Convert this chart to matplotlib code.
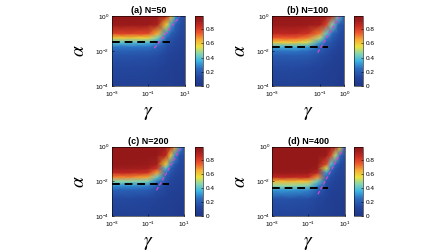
import numpy as np
import matplotlib
matplotlib.use('Agg')
import matplotlib.pyplot as plt
from matplotlib.colors import LinearSegmentedColormap

plt.rcParams['font.family'] = ['Liberation Sans', 'DejaVu Sans']
plt.rcParams['mathtext.fontset'] = 'stix'

# log10(alpha) nodes, bottom to top
log_alpha = [-4, -3, -2.5, -2.25, -2, -1.75, -1.5, -1.25, -1, -0.5, 0]
# log10(gamma) nodes
log_gamma_acd = [-3, -2, -1, -0.5, 0, 0.25, 0.5, 0.75, 1]
log_gamma_b = [-3, -2, -1.5, -1, -0.75, -0.5, -0.25, 0]

# values, one list per gamma column (bottom -> top)
z_a = [
    [0.08, 0.12, 0.15, 0.17, 0.21, 0.27, 0.40, 0.60, 0.80, 0.95, 0.97],
    [0.08, 0.12, 0.15, 0.17, 0.21, 0.27, 0.40, 0.60, 0.80, 0.95, 0.97],
    [0.08, 0.11, 0.14, 0.16, 0.20, 0.26, 0.38, 0.58, 0.78, 0.94, 0.97],
    [0.07, 0.10, 0.13, 0.15, 0.18, 0.22, 0.30, 0.44, 0.64, 0.90, 0.96],
    [0.06, 0.08, 0.10, 0.11, 0.13, 0.15, 0.18, 0.22, 0.30, 0.58, 0.86],
    [0.06, 0.07, 0.09, 0.10, 0.11, 0.13, 0.15, 0.17, 0.20, 0.32, 0.62],
    [0.05, 0.06, 0.08, 0.09, 0.10, 0.11, 0.12, 0.14, 0.16, 0.20, 0.32],
    [0.05, 0.06, 0.07, 0.08, 0.09, 0.10, 0.11, 0.12, 0.13, 0.15, 0.18],
    [0.04, 0.05, 0.06, 0.06, 0.07, 0.08, 0.09, 0.10, 0.11, 0.12, 0.14],
]
z_b = [
    [0.08, 0.13, 0.17, 0.20, 0.26, 0.37, 0.60, 0.75, 0.87, 0.95, 0.97],
    [0.08, 0.13, 0.17, 0.20, 0.26, 0.37, 0.60, 0.75, 0.87, 0.95, 0.97],
    [0.08, 0.12, 0.16, 0.19, 0.24, 0.33, 0.53, 0.70, 0.83, 0.94, 0.97],
    [0.07, 0.10, 0.13, 0.15, 0.18, 0.22, 0.32, 0.50, 0.70, 0.91, 0.96],
    [0.06, 0.08, 0.11, 0.13, 0.15, 0.17, 0.21, 0.28, 0.42, 0.80, 0.94],
    [0.06, 0.07, 0.09, 0.10, 0.12, 0.14, 0.16, 0.19, 0.24, 0.45, 0.84],
    [0.05, 0.06, 0.07, 0.08, 0.09, 0.10, 0.12, 0.14, 0.16, 0.22, 0.42],
    [0.04, 0.05, 0.06, 0.07, 0.08, 0.09, 0.10, 0.11, 0.12, 0.14, 0.20],
]
z_c = [
    [0.08, 0.13, 0.21, 0.30, 0.46, 0.70, 0.86, 0.93, 0.96, 0.97, 0.97],
    [0.08, 0.13, 0.21, 0.30, 0.46, 0.70, 0.86, 0.93, 0.96, 0.97, 0.97],
    [0.08, 0.12, 0.20, 0.28, 0.43, 0.66, 0.83, 0.91, 0.95, 0.97, 0.97],
    [0.07, 0.10, 0.15, 0.20, 0.27, 0.42, 0.66, 0.83, 0.91, 0.96, 0.97],
    [0.06, 0.08, 0.11, 0.13, 0.16, 0.19, 0.25, 0.37, 0.58, 0.86, 0.94],
    [0.06, 0.07, 0.09, 0.10, 0.12, 0.14, 0.17, 0.21, 0.28, 0.60, 0.88],
    [0.05, 0.06, 0.08, 0.09, 0.10, 0.11, 0.13, 0.15, 0.18, 0.30, 0.66],
    [0.05, 0.06, 0.07, 0.08, 0.09, 0.10, 0.11, 0.12, 0.13, 0.17, 0.32],
    [0.04, 0.05, 0.06, 0.07, 0.08, 0.09, 0.10, 0.11, 0.12, 0.13, 0.17],
]
z_d = [
    [0.10, 0.16, 0.31, 0.47, 0.63, 0.87, 0.95, 0.97, 0.97, 0.97, 0.97],
    [0.10, 0.16, 0.31, 0.47, 0.63, 0.87, 0.95, 0.97, 0.97, 0.97, 0.97],
    [0.09, 0.15, 0.29, 0.44, 0.61, 0.85, 0.94, 0.96, 0.97, 0.97, 0.97],
    [0.08, 0.12, 0.20, 0.29, 0.42, 0.68, 0.87, 0.94, 0.96, 0.97, 0.97],
    [0.06, 0.09, 0.12, 0.14, 0.17, 0.22, 0.32, 0.53, 0.78, 0.94, 0.97],
    [0.06, 0.07, 0.09, 0.11, 0.13, 0.15, 0.19, 0.25, 0.40, 0.80, 0.95],
    [0.05, 0.06, 0.08, 0.09, 0.10, 0.12, 0.14, 0.17, 0.23, 0.50, 0.87],
    [0.05, 0.06, 0.07, 0.08, 0.09, 0.10, 0.11, 0.12, 0.15, 0.25, 0.60],
    [0.04, 0.05, 0.06, 0.07, 0.08, 0.09, 0.10, 0.11, 0.12, 0.14, 0.22],
]

titles = ['(a) N=50', '(b) N=100', '(c) N=200', '(d) N=400']
xlims = [(-3, 1), (-3, 0), (-3, 1), (-3, 1)]
xticks = [[-3, -1, 1], [-3, -1, 0], [-3, -1, 1], [-3, -1, 1]]

# black dashed line: log10(alpha) level and right end in log10(gamma)
black_alpha = [-1.47, -1.75, -2.14, -2.37]
black_gamma_end = [0.18, -0.66, 0.17, 0.11]
# magenta dashed line endpoints (log10 gamma, log10 alpha)
mag_gamma = [(-0.67, 0.73), (-1.1, -0.18), (-0.52, 0.86), (-0.48, 0.91)]
mag_alpha = [(-1.85, 0.0), (-2.1, 0.0), (-2.52, 0.0), (-2.75, -0.15)]

# softened jet as it appears in the picture
cmap = LinearSegmentedColormap.from_list('softjet', [
    (0.00, '#1f3686'), (0.12, '#23469c'), (0.25, '#2c6cc0'),
    (0.36, '#3cb6e4'), (0.46, '#86d6b0'), (0.56, '#eae33e'),
    (0.66, '#f5ac34'), (0.76, '#ec562c'), (0.86, '#c62a22'),
    (0.93, '#a21e1e'), (1.00, '#8e1616')])

fig = plt.figure(figsize=(4.48, 2.52), dpi=100)

ax_pos = [[0.249, 0.659, 0.164, 0.278], [0.6065, 0.659, 0.162, 0.278],
          [0.249, 0.143, 0.162, 0.275], [0.608, 0.143, 0.161, 0.275]]
cb_pos = [[0.4353, 0.659, 0.0185, 0.278], [0.7908, 0.659, 0.02, 0.278],
          [0.4353, 0.143, 0.0185, 0.275], [0.7908, 0.143, 0.02, 0.275]]

def sup(e):
    return r'$\mathregular{10^{%d}}$' % e

for i, z in enumerate([z_a, z_b, z_c, z_d]):
    g = log_gamma_b if i == 1 else log_gamma_acd
    G, A = np.meshgrid(10.0 ** np.array(g), 10.0 ** np.array(log_alpha))
    Z = np.array(z).T
    ax = fig.add_axes(ax_pos[i])
    ax.set_xscale('log')
    ax.set_yscale('log')
    m = ax.pcolormesh(G, A, Z, shading='gouraud', cmap=cmap, vmin=0, vmax=0.99)
    ax.plot([1e-3, 10 ** black_gamma_end[i]], [10 ** black_alpha[i]] * 2,
            color='black', ls=(0, (4, 2.5)), lw=1.4)
    ax.plot(10.0 ** np.array(mag_gamma[i]), 10.0 ** np.array(mag_alpha[i]),
            color='#d048d0', ls=(0, (3, 1.5)), lw=0.9)
    ax.set_xlim(10.0 ** xlims[i][0], 10.0 ** xlims[i][1])
    ax.set_ylim(1e-4, 1)
    ax.set_xticks([10.0 ** t for t in xticks[i]])
    ax.set_xticklabels([sup(t) for t in xticks[i]])
    ax.set_yticks([1e-4, 1e-2, 1])
    ax.set_yticklabels([sup(t) for t in [-4, -2, 0]])
    ax.minorticks_off()
    ax.tick_params(direction='in', length=1.5, width=0.4, labelsize=4.6, pad=1.5)
    ax.tick_params(axis='x', pad=3)
    for s in ax.spines.values():
        s.set_linewidth(0.4)
    ax.set_title(titles[i], fontsize=6.5, fontweight='bold', pad=2)
    ax.set_xlabel(r'$\gamma$', fontsize=14, labelpad=4)
    ax.set_ylabel(r'$\alpha$', fontsize=14, labelpad=5)

    cax = fig.add_axes(cb_pos[i])
    cb = fig.colorbar(m, cax=cax, ticks=[0, 0.2, 0.4, 0.6, 0.8])
    cb.ax.set_yticklabels(['0', '0.2', '0.4', '0.6', '0.8'])
    cb.ax.tick_params(direction='in', length=1.5, width=0.4, labelsize=4.6, pad=1.5)
    cb.outline.set_linewidth(0.4)

fig.savefig('out.png', dpi=100)
